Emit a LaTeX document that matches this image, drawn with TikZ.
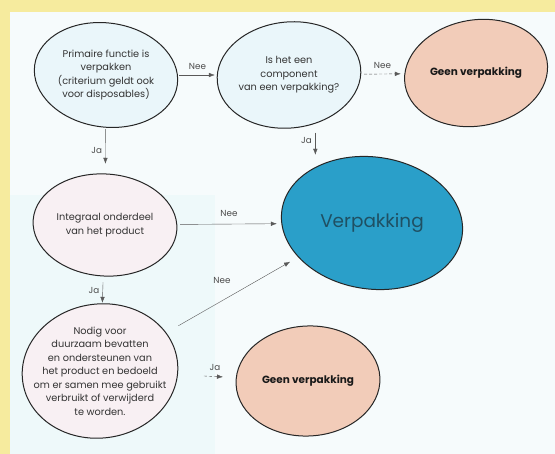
\documentclass[tikz,border=0pt]{standalone}
\usepackage{fontspec}
\setmainfont{Poppins}
\usetikzlibrary{shapes.geometric,backgrounds,arrows.meta}
\definecolor{kader}{HTML}{F6EB9E}
\definecolor{papier}{HTML}{F6FBFC}
\definecolor{vlak}{HTML}{EEF9FA}
\definecolor{ijsblauw}{HTML}{EAF6FA}
\definecolor{poeder}{HTML}{F8F0F3}
\definecolor{zalm}{HTML}{F2CCB9}
\definecolor{petrol}{HTML}{2A9FC9}
\definecolor{inkt}{HTML}{1F5063}
\begin{document}
\begin{tikzpicture}[x=1bp,y=-1bp,
		bol/.style={ellipse, inner sep=0pt, align=center, text=black!80, font=\fontsize{9.8}{13.5}\selectfont},
		pijl/.style={-{Latex[length=6bp,width=4.5bp]}, thin, draw=black!65},
		lbl/.style={font=\fontsize{8.8}{10}\selectfont, text=black!70}]
		\useasboundingbox (0,0) rectangle (555,454);
		% vragen en uitkomsten
		\node[bol, minimum width=144bp, minimum height=104bp] (prim) at (106,75) {Primaire functie is\\verpakken\\(criterium geldt ook\\voor disposables)};
		\node[bol, minimum width=144bp, minimum height=106bp] (comp) at (289,75) {Is het een\\component\\van een verpakking?};
		\node[bol, minimum width=144bp, minimum height=106bp, font=\fontsize{10.5}{12}\selectfont\bfseries, text=black!90] (geenA) at (476,73) {Geen verpakking};
		\node[bol, minimum width=144bp, minimum height=102bp] (integ) at (105,225) {Integraal onderdeel\\van het product};
		\node[bol, minimum width=156bp, minimum height=134bp] (nodig) at (100,371) {Nodig voor\\duurzaam bevatten\\en ondersteunen van\\het product en bedoeld\\om er samen mee gebruikt\\verbruikt of verwijderd\\te worden.};
		\node[bol, minimum width=182bp, minimum height=132bp, font=\fontsize{18.5}{20}\selectfont, text=inkt] (verp) at (372,223) {Verpakking};
		\node[bol, minimum width=144bp, minimum height=110bp, font=\fontsize{10.5}{12}\selectfont\bfseries, text=black!90] (geenB) at (308,381) {Geen verpakking};
		% pijlen
		\draw[pijl, shorten <=1bp, shorten >=2bp] (prim) -- node[lbl, above=2bp] {Nee} (comp);
		\draw[pijl, densely dashed, shorten <=3bp, shorten >=3bp] (comp) -- node[lbl, above=2bp] {Nee} (geenA);
		\draw[pijl, shorten <=2bp, shorten >=10bp] (prim) -- node[lbl, left] {Ja} (integ);
		\draw[pijl, shorten <=8bp, shorten >=2bp] (comp.-62) -- node[lbl, left] {Ja} (comp.-62 |- verp.north);
		\draw[pijl, shorten <=3bp, shorten >=4bp] (integ) -- node[lbl, above=4bp] {Nee} (verp);
		\draw[pijl, shorten <=6bp, shorten >=1bp] (integ) -- node[lbl, left] {Ja} (nodig);
		\draw[pijl, shorten <=6bp, shorten >=6bp] (nodig.30) -- node[lbl, pos=0.4, above=14bp] {Nee} (verp.205);
		\draw[pijl, densely dashed, shorten <=10bp, shorten >=13bp] (nodig) -- node[lbl, above=2bp] {Ja} (geenB);
		% achtergrond en ellipsen
		\begin{scope}[on background layer]
			\fill[kader] (0,0) rectangle (555,454);
			\fill[papier] (10,12) rectangle (555,454);
			\fill[vlak] (10,195) rectangle (215,454);
			\foreach \n/\rx/\ry/\a/\kleur in {prim/72/52/-8/ijsblauw, comp/72/53/6/ijsblauw, geenA/72/53/10/zalm, integ/72/51/-4/poeder, nodig/78/67/8/poeder, verp/91/66/-8/petrol, geenB/72/55/3/zalm}
				\draw[black!85, line width=1bp, fill=\kleur, rotate around={\a:(\n.center)}] (\n.center) ellipse [x radius=\rx, y radius=\ry];
		\end{scope}
	\end{tikzpicture}
\end{document}
